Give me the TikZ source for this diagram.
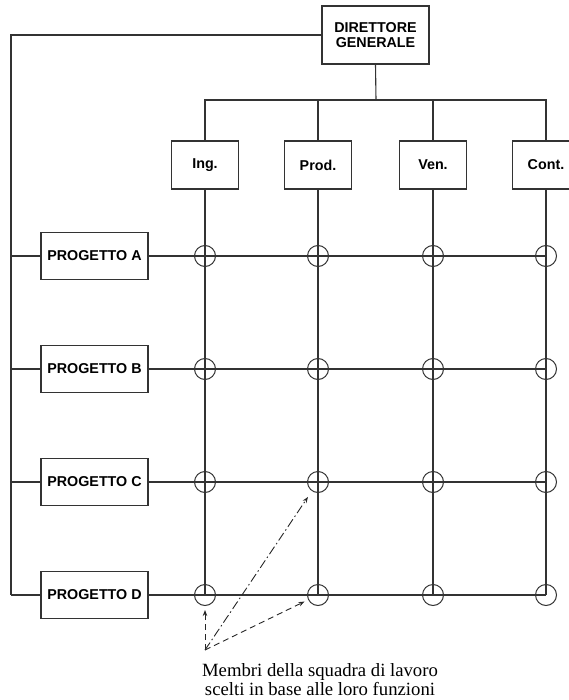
\documentclass[tikz,border=0pt]{standalone}
\usepackage{fontspec}
\setmainfont{Liberation Serif}
\setsansfont{Liberation Sans}
\usetikzlibrary{arrows.meta}

\begin{document}
\begin{tikzpicture}[
    x=1pt, y=-1pt,
    >={Stealth[length=6pt, width=4.5pt]},
    conn/.style={line width=1.1pt, black!80},
    unit/.style={draw=black!80, line width=1.1pt, inner sep=0pt, align=center,
        font=\sffamily\bfseries\fontsize{14.3}{15}\selectfont},
    func/.style={unit, minimum width=67pt, minimum height=48pt},
    proj/.style={unit, minimum width=107pt, minimum height=47pt},
    member/.style={circle, draw=black!80, line width=1pt, minimum size=21pt, inner sep=0pt},
    pointer/.style={->, line width=0.9pt, black!85, shorten >=4pt},
    caption/.style={font=\fontsize{18.7}{19}\selectfont, align=center, inner sep=0pt}
]
    \useasboundingbox (0,0) rectangle (568,700);

    \node[unit, minimum width=107pt, minimum height=58pt] (dg) at (375.5,35) {DIRETTORE\\GENERALE};

    % functions and projects
    \foreach \name/\lab/\x in {ing/Ing./205, prod/Prod./318, ven/Ven./433, cont/Cont./546}
        \node[func] (\name) at (\x,165) {\lab};
    \foreach \r/\y in {A/256, B/369, C/482, D/595}
        \node[proj] (p\r) at (94.5,\y) {PROGETTO \r};

    \foreach \r in {A,B,C,D}
        \foreach \f in {ing,prod,ven,cont}
            \node[member] (\r-\f) at (\f |- p\r) {};

    % matrix lines
    \foreach \f in {ing,prod,ven,cont}
        \draw[conn] (\f.south) -- (D-\f.center);
    \foreach \r in {A,B,C,D}
        \draw[conn] (p\r.east) -- (\r-cont.center);

    \coordinate (bus) at (376,100);
    \draw[conn] (dg.south) -- (bus);
    \draw[conn] (ing.north) -- (ing.north |- bus) -- (cont.north |- bus) -- (cont.north);
    \draw[conn] (prod.north) -- (prod.north |- bus);
    \draw[conn] (ven.north) -- (ven.north |- bus);

    \coordinate (spine) at (11,35);
    \draw[conn] (dg.west) -- (spine) -- (spine |- pD);
    \foreach \r in {A,B,C,D}
        \draw[conn] (spine |- p\r) -- (p\r.west);

    % team members
    \coordinate (note) at (205,650);
    \draw[pointer, dash pattern=on 6pt off 4pt] (note) -- (D-ing);
    \draw[pointer, dash pattern=on 9pt off 3pt on 1.5pt off 3pt, shorten >=7pt] (note) -- (C-prod);
    \draw[pointer, dash pattern=on 6pt off 4pt] (note) -- (D-prod);

    \node[caption, anchor=north] (team) at (320,663) {Membri della squadra di lavoro\\scelti in base alle loro funzioni};
\end{tikzpicture}
\end{document}
